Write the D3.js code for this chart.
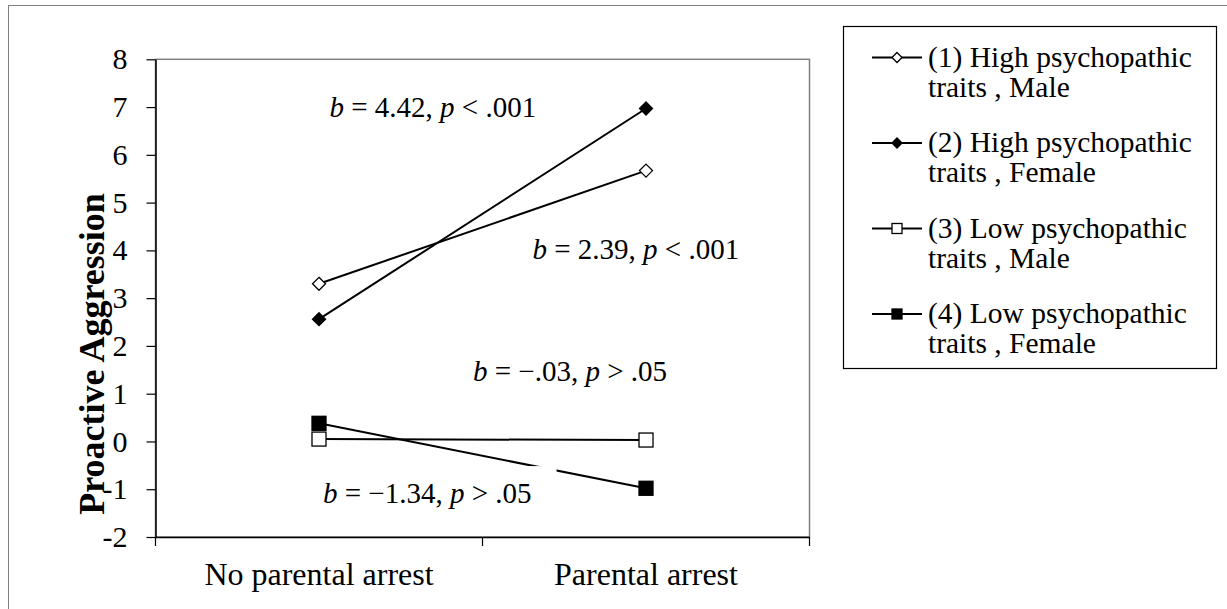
<!DOCTYPE html>
<html>
<head>
<meta charset="utf-8">
<script src="https://cdn.jsdelivr.net/npm/d3@7"></script>
<style>
  html, body { margin: 0; padding: 0; background: #fff; }
  svg { display: block; }
  text { font-family: "Liberation Serif", "Times New Roman", serif; fill: #000; }
</style>
</head>
<body>
<svg id="chart" width="1227" height="609"></svg>
<script>
// ---- data ----
const categories = ["No parental arrest", "Parental arrest"];
const seriesNames = [
  ["(1) High psychopathic", "traits , Male"],
  ["(2) High psychopathic", "traits , Female"],
  ["(3) Low psychopathic", "traits , Male"],
  ["(4) Low psychopathic", "traits , Female"]
];
const seriesMarkers = ["diamond-open", "diamond-filled", "square-open", "square-filled"];
const highMale = [3.30, 5.67];
const highFemale = [2.56, 6.97];
const lowMale = [0.05, 0.03];
const lowFemale = [0.38, -0.98];
const yTicks = [-2, -1, 0, 1, 2, 3, 4, 5, 6, 7, 8];
const annotationB = ["4.42", "2.39", "\u2212.03", "\u22121.34"];
const annotationP = ["< .001", "< .001", "> .05", "> .05"];
const annotationCat = [0, 1, 0, 0];
const annotationV = [6.79, 3.82, 1.27, -1.29];

const seriesValues = [highMale, highFemale, lowMale, lowFemale];

// ---- layout ----
const svg = d3.select("#chart");
const plot = { left: 155.5, right: 809.5, top: 59.3, bottom: 537 };
const annotationDx = [174, 50, 317.5, 167.5];

const x = d3.scaleBand().domain(categories).range([plot.left, plot.right]);
const y = d3.scaleLinear().domain([-2, 8]).range([plot.bottom, plot.top]);
const cx = i => x(categories[i]) + x.bandwidth() / 2;

// outer frame
svg.append("rect").attr("x", 8.5).attr("y", 5.5).attr("width", 1240).attr("height", 620)
  .attr("fill", "none").attr("stroke", "#808080").attr("stroke-width", 1);

// plot area border (top/right gray)
svg.append("rect").attr("x", plot.left).attr("y", plot.top)
  .attr("width", plot.right - plot.left).attr("height", plot.bottom - plot.top)
  .attr("fill", "none").attr("stroke", "#808080").attr("stroke-width", 1.5);

// y axis
const yAxis = d3.axisLeft(y).tickValues(yTicks).tickSize(9).tickSizeOuter(0).tickPadding(19)
  .tickFormat(d => String(d));
const gy = svg.append("g").attr("transform", `translate(${plot.left},0)`).call(yAxis);
gy.select(".domain").attr("stroke", "#000").attr("stroke-width", 1.5);
gy.selectAll(".tick line").attr("stroke", "#000").attr("stroke-width", 1.2);
gy.selectAll(".tick text").style("font-size", "30px").attr("fill", "#000");

// x axis (labels centred in bands, ticks at band edges)
const xAxis = d3.axisBottom(x).tickSize(0).tickSizeOuter(0).tickPadding(25);
const gx = svg.append("g").attr("transform", `translate(0,${plot.bottom})`).call(xAxis);
gx.select(".domain").attr("stroke", "#000").attr("stroke-width", 1.5);
gx.selectAll(".tick text").style("font-size", "32px").attr("fill", "#000");
const edges = [x(categories[0])].concat(categories.map(c => x(c) + x.bandwidth()));
svg.append("g").selectAll("line").data(edges).join("line")
  .attr("x1", d => d).attr("x2", d => d)
  .attr("y1", plot.bottom).attr("y2", plot.bottom + 9)
  .attr("stroke", "#000").attr("stroke-width", 1.2);

// y axis title
svg.append("text")
  .attr("transform", `translate(104,354) rotate(-90)`)
  .attr("text-anchor", "middle")
  .style("font-size", "36px").style("font-weight", "bold")
  .text("Proactive Aggression");

// markers
function drawMarker(g, type, mx, my, s) {
  const fill = type.endsWith("filled") ? "#000" : "#fff";
  if (type.startsWith("diamond")) {
    g.append("path")
      .attr("d", `M${mx},${my - s}L${mx + s},${my}L${mx},${my + s}L${mx - s},${my}Z`)
      .attr("fill", fill).attr("stroke", "#000").attr("stroke-width", 1.3);
  } else {
    g.append("rect").attr("x", mx - s).attr("y", my - s).attr("width", 2 * s).attr("height", 2 * s)
      .attr("fill", fill).attr("stroke", "#000").attr("stroke-width", 1.3);
  }
}

// lines
const line = d3.line().x((d, i) => cx(i)).y(d => y(d));
const gLines = svg.append("g");
seriesValues.forEach(vals => {
  gLines.append("path").attr("d", line(vals)).attr("fill", "none")
    .attr("stroke", "#000").attr("stroke-width", 2);
});

// annotations with white text boxes
const gAnn = svg.append("g");
annotationB.forEach((b, i) => {
  const g = gAnn.append("g");
  const t = g.append("text")
    .attr("x", x(categories[annotationCat[i]]) + annotationDx[i])
    .attr("y", y(annotationV[i]))
    .style("font-size", "29px");
  t.append("tspan").style("font-style", "italic").text("b");
  t.append("tspan").text(" = " + b + ", ");
  t.append("tspan").style("font-style", "italic").text("p");
  t.append("tspan").text(" " + annotationP[i]);
  const bb = t.node().getBBox();
  g.insert("rect", "text")
    .attr("x", bb.x - 10).attr("y", bb.y - 11)
    .attr("width", bb.width + 35).attr("height", bb.height + 16)
    .attr("fill", "#fff");
});

// markers on top
const gMarks = svg.append("g");
seriesValues.forEach((vals, si) => {
  vals.forEach((v, i) => {
    const s = seriesMarkers[si].startsWith("diamond") ? 6.5 : 7;
    drawMarker(gMarks, seriesMarkers[si], cx(i), y(v), s);
  });
});

// legend
const lg = svg.append("g");
lg.append("rect").attr("x", 843.5).attr("y", 26.5).attr("width", 373).attr("height", 342)
  .attr("fill", "#fff").attr("stroke", "#000").attr("stroke-width", 1.2);
seriesNames.forEach((names, i) => {
  const base = 66.5 + i * 85.5;
  const ly = base - 9;
  lg.append("line").attr("x1", 872).attr("x2", 922).attr("y1", ly).attr("y2", ly)
    .attr("stroke", "#000").attr("stroke-width", 2);
  drawMarker(lg, seriesMarkers[i], 897, ly, 5);
  const t = lg.append("text").attr("x", 928).attr("y", base).style("font-size", "29.5px");
  t.append("tspan").attr("x", 928).text(names[0]);
  t.append("tspan").attr("x", 928).attr("dy", 30).text(names[1]);
});
</script>
</body>
</html>
